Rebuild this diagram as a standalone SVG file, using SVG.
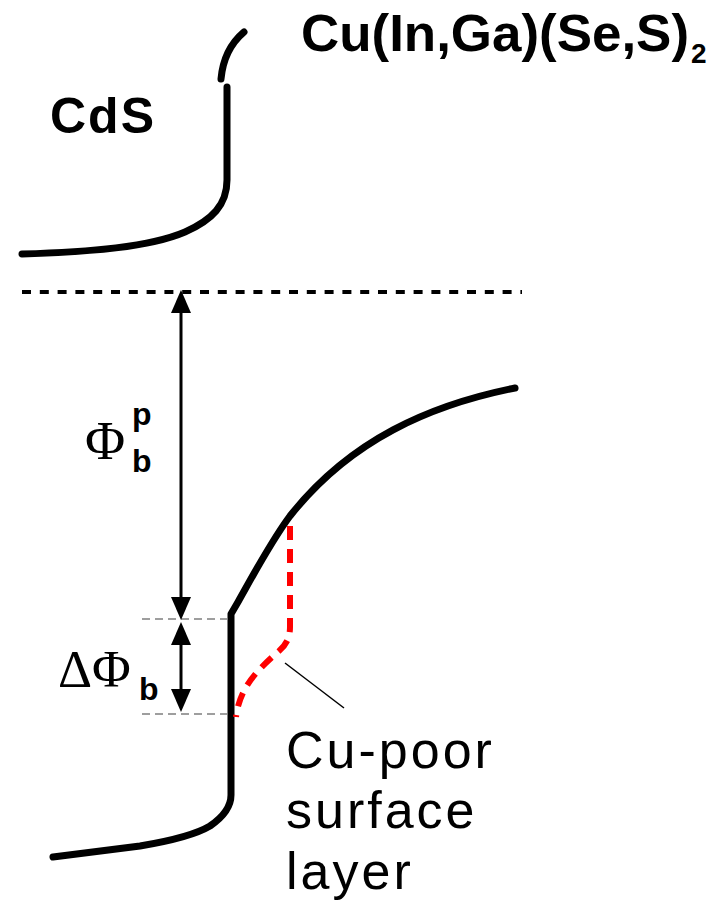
<svg xmlns="http://www.w3.org/2000/svg" width="726" height="901" viewBox="0 0 726 901">
<style>
.band{fill:none;stroke:#000;stroke-width:7;stroke-linecap:round;stroke-linejoin:round}
.bold{font-family:"Liberation Sans",Arial,sans-serif;font-weight:bold;fill:#000}
.reg{font-family:"Liberation Sans",Arial,sans-serif;fill:#000}
.ser{font-family:"Liberation Serif","Times New Roman",serif;fill:#000}
.guide{fill:none;stroke:#7f7f7f;stroke-width:1.5;stroke-dasharray:8 5}
.arr{fill:none;stroke:#000;stroke-width:3}
</style>
<rect width="726" height="901" fill="#fff"/>
<g id="cds-band">
<path class="band" d="M22,254 C 90,252 150,247 185,232 C 212,220 227,205 227,180 L227,87"/>
<path class="band" d="M221,79 C 223,57 231,43 244,32"/>
</g>
<g id="cigs-band">
<path class="band" d="M53,857 L140,846 C 170,841 195,835 210,826 C 226,815 231,805 231,795 L231,614 L238,602 C 256,570 272,540 290,516 C 350,440 430,405 515,388"/>
</g>
<g id="fermi-level">
<line x1="22" y1="292" x2="522" y2="292" stroke="#000" stroke-width="4" stroke-dasharray="9 8.8"/>
</g>
<g id="cu-poor-layer">
<path d="M290,526 L290,627 C 290,638 286,645 279,651 C 264,664 252,676 245,689 C 240,698 237,708 236,717" fill="none" stroke="#ff0000" stroke-width="6" stroke-dasharray="14 9"/>
</g>
<g id="connectors">
<line class="guide" x1="142" y1="619" x2="228" y2="619"/>
<line class="guide" x1="142" y1="714" x2="228" y2="714"/>
<line class="arr" x1="181" y1="305" x2="181" y2="605"/>
<polygon points="181,290 171,313 191,313"/>
<polygon points="181,620 171,597 191,597"/>
<line class="arr" x1="181" y1="640" x2="181" y2="693"/>
<polygon points="181,622 171,645 191,645"/>
<polygon points="181,712 171,689 191,689"/>
<line x1="285" y1="663" x2="344" y2="708" stroke="#000" stroke-width="1.5"/>
</g>
<g id="label-cigs">
<text class="bold" x="301" y="51" font-size="52" textLength="388" lengthAdjust="spacingAndGlyphs">Cu(In,Ga)(Se,S)</text>
<text class="bold" x="691" y="63" font-size="28">2</text>
</g>
<g id="label-cds">
<text class="bold" x="50" y="133" font-size="50" letter-spacing="2">CdS</text>
</g>
<g id="label-phibp">
<text class="ser" x="85" y="459" font-size="55">Φ</text>
<text class="bold" x="132" y="425" font-size="32">p</text>
<text class="bold" x="132" y="472" font-size="32">b</text>
</g>
<g id="label-dphib">
<text class="ser" x="58" y="687" font-size="53">ΔΦ</text>
<text class="bold" x="139" y="700" font-size="32">b</text>
</g>
<g id="label-cupoor">
<text class="reg" x="286" y="768" font-size="52" letter-spacing="3">Cu-poor</text>
<text class="reg" x="286" y="828" font-size="52" letter-spacing="3">surface</text>
<text class="reg" x="286" y="889" font-size="52" letter-spacing="3">layer</text>
</g>
</svg>
